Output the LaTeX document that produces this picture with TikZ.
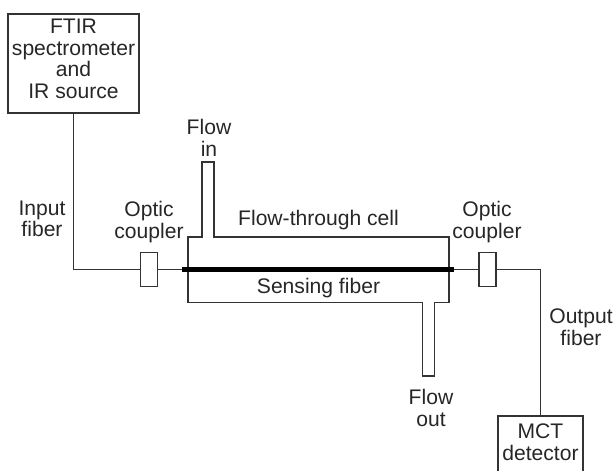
\documentclass[tikz,border=0pt]{standalone}
\usepackage{fontspec}
\setmainfont{Liberation Sans}
\usepackage{tikz}
\usetikzlibrary{positioning}
\definecolor{wire}{gray}{0.2}
\tikzset{
	wall/.style={draw=wire,line width=0.95pt},
	box/.style={wall,rectangle,inner sep=0pt,align=center},
	lab/.style={align=center,inner sep=0pt,text=black!85,font=\fontsize{15}{15.4}\selectfont},
}
\begin{document}
\begin{tikzpicture}[x=0.025cm,y=-0.025cm]
\useasboundingbox (0,0) rectangle (616,470);
	\node[box,lab,minimum width=3.275cm,minimum height=2.475cm] (ftir) at (73.5,63.5) {FTIR\\spectrometer\\and\\IR source\\[-8.5pt]~};
	\node[box,minimum width=0.42cm,minimum height=0.85cm] (couplerL) at (149,269.5) {};
	\node[box,minimum width=0.42cm,minimum height=0.85cm] (couplerR) at (487.5,269.5) {};
	\node[box,lab,minimum width=2.125cm,minimum height=1.5cm] (mct) at (540.5,446) {MCT\\detector\\[-10pt]~};
	\coordinate (fiberL) at (182,269.5);
	\coordinate (fiberR) at (454,269.5);

	\node[lab] (input) at (42,219) {Input\\fiber};
	\node[lab] (opticL) at (149,222) {Optic\\coupler};
	\node[lab] (opticR) at (487,222) {Optic\\coupler};
	\node[lab] (output) at (581,327) {Output\\fiber};
	\node[lab] (flowin) at (209,138) {Flow\\in};
	\node[lab] (flowout) at (431,408) {Flow\\out};
	\node[lab] (cell) at (318.5,220) {Flow-through cell};
	\node[lab] (sensing) at (318.5,288) {Sensing fiber};

	% cell with inlet and outlet
	\draw[wall] (202,237) -- (202,162) -- (214,162) -- (214,237) -- (449,237) -- (449,302.5)
		-- (434.5,302.5) -- (434.5,376) -- (422.5,376) -- (422.5,302.5) -- (188,302.5) -- (188,237) -- cycle;

	\draw[wall] (ftir.south) |- (couplerL.west);
	\draw[wall] (couplerL.east) -- (fiberL);
	\draw[wall] (fiberR) -- (couplerR.west);
	\draw[wall] (couplerR.east) -| (mct.north);
	\draw[line width=3.6pt,black] (fiberL) -- (fiberR);
\end{tikzpicture}
\end{document}
